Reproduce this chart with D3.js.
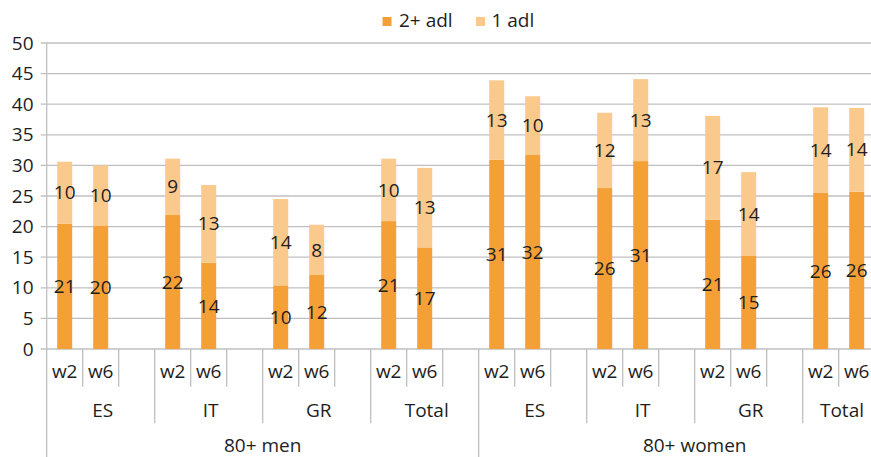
<!DOCTYPE html>
<html>
<head>
<meta charset="utf-8">
<script src="https://cdn.jsdelivr.net/npm/d3@7"></script>
<style>
  html, body { margin: 0; padding: 0; background: #fff; }
  svg { display: block; }
  text { font-family: "Open Sans", "Noto Sans", sans-serif; fill: #1e1e1e; }
</style>
</head>
<body>
<svg id="chart" width="871" height="457"></svg>
<script>
// ---- Data ----
const groups = ["80+ men", "80+ women"];
const countries = ["ES", "IT", "GR", "Total"];
const waves = ["w2", "w6"];
const seriesNames = ["2+ adl", "1 adl"];
// order: men ES w2, ES w6, IT w2, IT w6, GR w2, GR w6, Total w2, Total w6, then women same order
const adl2 = [20.5, 20.1, 21.9, 14.1, 10.4, 12.1, 20.9, 16.6,
              30.9, 31.7, 26.3, 30.7, 21.1, 15.2, 25.5, 25.7];
const adl1 = [10.1, 9.9, 9.2, 12.7, 14.1, 8.2, 10.2, 13.0,
              13.0, 9.6, 12.3, 13.4, 17.0, 13.7, 14.0, 13.7];
const yTicks = [0, 5, 10, 15, 20, 25, 30, 35, 40, 45, 50];
const colors = ["#F4A036", "#FAC98C"];

// ---- Build slots (w2, w6, blank) per country per group ----
const slots = [];
const bars = [];
let k = 0;
groups.forEach((g) => {
  countries.forEach((c) => {
    waves.forEach((w) => {
      const key = `${g}|${c}|${w}`;
      slots.push(key);
      bars.push({ key, group: g, country: c, wave: w, a2: adl2[k], a1: adl1[k] });
      k++;
    });
    slots.push(`${g}|${c}|blank`);
  });
});

const W = 871, H = 457;
const x0 = 46.7, step = 36;
const FS = 19;
const svg = d3.select("#chart");

const x = d3.scaleBand()
  .domain(slots)
  .range([x0, x0 + step * slots.length])
  .paddingInner(0.583)
  .paddingOuter(0.2915);

const y = d3.scaleLinear().domain([0, 50]).range([349, 43]);

const gridColor = "#BFBFBF";

// gridlines
svg.append("g").selectAll("line")
  .data(yTicks)
  .join("line")
  .attr("x1", x0 - 6).attr("x2", W)
  .attr("y1", d => y(d)).attr("y2", d => y(d))
  .attr("stroke", gridColor).attr("stroke-width", 1.3);

// y axis labels
svg.append("g").selectAll("text")
  .data(yTicks)
  .join("text")
  .attr("x", 33.5).attr("y", d => y(d))
  .attr("dy", "0.35em")
  .attr("text-anchor", "end")
  .attr("font-size", FS)
  .text(d => d);

// y axis line
svg.append("line")
  .attr("x1", x0).attr("x2", x0)
  .attr("y1", y(50)).attr("y2", H)
  .attr("stroke", gridColor).attr("stroke-width", 1.3);

// stacked bars
const stackData = bars.map(b => ({ key: b.key, "2+ adl": b.a2, "1 adl": b.a1 }));
const stack = d3.stack().keys(seriesNames)(stackData);

const layers = svg.append("g").selectAll("g")
  .data(stack)
  .join("g")
  .attr("fill", (d, i) => colors[i]);

layers.selectAll("rect")
  .data(d => d)
  .join("rect")
  .attr("x", d => x(d.data.key))
  .attr("width", x.bandwidth())
  .attr("y", d => y(d[1]))
  .attr("height", d => y(d[0]) - y(d[1]));

// value labels
layers.each(function(layer) {
  d3.select(this).selectAll("text")
    .data(layer)
    .join("text")
    .attr("x", d => x(d.data.key) + x.bandwidth() / 2)
    .attr("y", d => y((d[0] + d[1]) / 2))
    .attr("dy", "0.35em")
    .attr("text-anchor", "middle")
    .attr("font-size", FS)
    .style("fill", "#1e1e1e")
    .text(d => Math.round(d[1] - d[0]));
});

// ---- Category axis ----
const axisG = svg.append("g");
slots.forEach((s, i) => {
  const xb = x0 + step * (i + 1);
  const isGroupEnd = (i % 3 === 2);
  const isTopEnd = (i % 12 === 11);
  const y2 = isTopEnd ? H : (isGroupEnd ? 423.3 : 386.7);
  axisG.append("line")
    .attr("x1", xb).attr("x2", xb)
    .attr("y1", y(0)).attr("y2", y2)
    .attr("stroke", gridColor).attr("stroke-width", 1.3);
});

// wave labels
axisG.selectAll("text.wave")
  .data(bars)
  .join("text")
  .attr("class", "wave")
  .attr("x", d => x(d.key) + x.bandwidth() / 2)
  .attr("y", 378)
  .attr("text-anchor", "middle")
  .attr("font-size", FS)
  .text(d => d.wave);

// country labels
const countryLabels = [];
groups.forEach(g => countries.forEach(c => countryLabels.push({ g, c })));
axisG.selectAll("text.country")
  .data(countryLabels)
  .join("text")
  .attr("class", "country")
  .attr("y", 417)
  .attr("text-anchor", "middle")
  .attr("font-size", FS)
  .text(d => d.c)
  .attr("x", function(d) {
    const start = x(`${d.g}|${d.c}|w2`) - (x.step() - x.bandwidth()) / 2;
    const center = start + 1.5 * x.step() + 2;
    const w = this.getComputedTextLength();
    return Math.min(center, W - w / 2 - 7);
  });

// group labels
axisG.selectAll("text.group")
  .data(groups)
  .join("text")
  .attr("class", "group")
  .attr("y", 452)
  .attr("text-anchor", "middle")
  .attr("font-size", FS)
  .attr("x", g => {
    const start = x(`${g}|ES|w2`) - (x.step() - x.bandwidth()) / 2;
    return start + 6 * x.step();
  })
  .text(g => g);

// ---- Legend ----
const legend = svg.append("g");
const legendItems = [
  { name: seriesNames[0], color: colors[0], sx: 382.5, tx: 399 },
  { name: seriesNames[1], color: colors[1], sx: 476, tx: 491.5 }
];
legendItems.forEach(it => {
  legend.append("rect")
    .attr("x", it.sx).attr("y", 17).attr("width", 9).attr("height", 9)
    .attr("fill", it.color);
  legend.append("text")
    .attr("x", it.tx).attr("y", 27)
    .attr("font-size", FS)
    .text(it.name);
});
</script>
</body>
</html>
